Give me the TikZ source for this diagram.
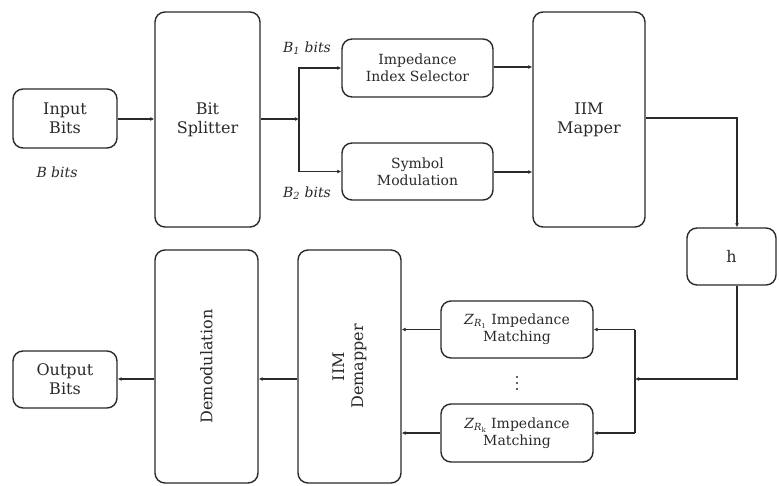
\documentclass[tikz,border=0pt]{standalone}
\usepackage{fontspec}
\setmainfont{DejaVu Serif}
\usetikzlibrary{arrows.meta}
\definecolor{ink}{HTML}{2A2A2A}
\begin{document}
\begin{tikzpicture}[x=1pt,y=-1pt,
  box/.style={draw=ink, line width=1.4pt, rounded corners=10pt, align=center, text=ink, inner sep=2pt},
  big/.style={font=\fontsize{16}{19}\selectfont},
  small/.style={font=\fontsize{14}{17}\selectfont},
  conn/.style={draw=ink, line width=1.3pt, -{Latex[length=4pt,width=4pt]}},
  wire/.style={draw=ink, line width=1.3pt},
  lbl/.style={text=ink, font=\fontsize{14}{17}\selectfont\itshape}
]
\useasboundingbox (0,0) rectangle (779,485);
\node[box,big,minimum width=104pt,minimum height=59pt] (in) at (65,118.5) {Input\\Bits};
\node[box,big,minimum width=105pt,minimum height=215pt] (split) at (207.5,119.5) {Bit\\Splitter};
\node[box,small,minimum width=151pt,minimum height=58pt] (iis) at (417.5,68) {Impedance\\Index Selector};
\node[box,small,minimum width=151pt,minimum height=57pt] (sm) at (417.5,171.5) {Symbol\\Modulation};
\node[box,big,minimum width=112pt,minimum height=215pt] (map) at (589,119.5) {IIM\\Mapper};
\node[box,big,minimum width=89pt,minimum height=57pt] (h) at (731.5,256.5) {h};
\node[box,small,minimum width=152pt,minimum height=57pt] (z1) at (517,329.5) {\textit{Z}\textsubscript{\textit{R}\textsubscript{1}} Impedance\\Matching};
\node[box,small,minimum width=152pt,minimum height=58pt] (z2) at (517,433) {\textit{Z}\textsubscript{\textit{R}\textsubscript{k}} Impedance\\Matching};
\node[box,big,minimum width=103pt,minimum height=233pt] (demap) at (349.5,366.5) {};
\node[text=ink,big,rotate=90,align=center] (demapt) at (349.5,366.5) {IIM\\Demapper};
\node[box,big,minimum width=103pt,minimum height=233pt] (demod) at (206.5,366.5) {};
\node[text=ink,big,rotate=90] (demodt) at (206.5,366.5) {Demodulation};
\node[box,big,minimum width=104pt,minimum height=57pt] (out) at (65,379.5) {Output\\Bits};
\foreach \yy in {377,383,389} \fill[ink] (517,\yy) circle (1.1pt);
\node[lbl] (lb) at (57,172) {B bits};
\node[lbl] (lb1) at (307,48) {B\textsubscript{1} bits};
\node[lbl] (lb2) at (307,193) {B\textsubscript{2} bits};
% connectors
\coordinate (j) at (299,119);
\coordinate (t1) at (737,118);
\coordinate (bus) at (635,379);
\coordinate (h1) at (737,379);
\draw[conn] (in.east |- 0,119) -- (split.west |- 0,119);
\draw[conn] (split.east |- j) -- (j);
\draw[conn] (j) |- (iis.west);
\draw[conn] (j) |- (sm.west);
\draw[conn] (iis.east |- 0,67) -- (map.west |- 0,67);
\draw[conn] (sm.east |- 0,172) -- (map.west |- 0,172);
\draw[conn] (map.east |- t1) -- (t1) -- (t1 |- h.north);
\draw[conn] (h.south -| h1) -- (h1) -- (bus);
\draw[wire] (bus |- z1.east) -- (bus |- z2.east);
\draw[conn] (bus |- z1.east) -- (z1.east);
\draw[conn] (bus |- z2.east) -- (z2.east);
\draw[conn] (z1.west) -- (demap.east |- z1.west);
\draw[conn] (z2.west) -- (demap.east |- z2.west);
\draw[conn] (demap.west |- 0,379) -- (demod.east |- 0,379);
\draw[conn] (demod.west |- 0,379) -- (out.east |- 0,379);
\end{tikzpicture}
\end{document}
